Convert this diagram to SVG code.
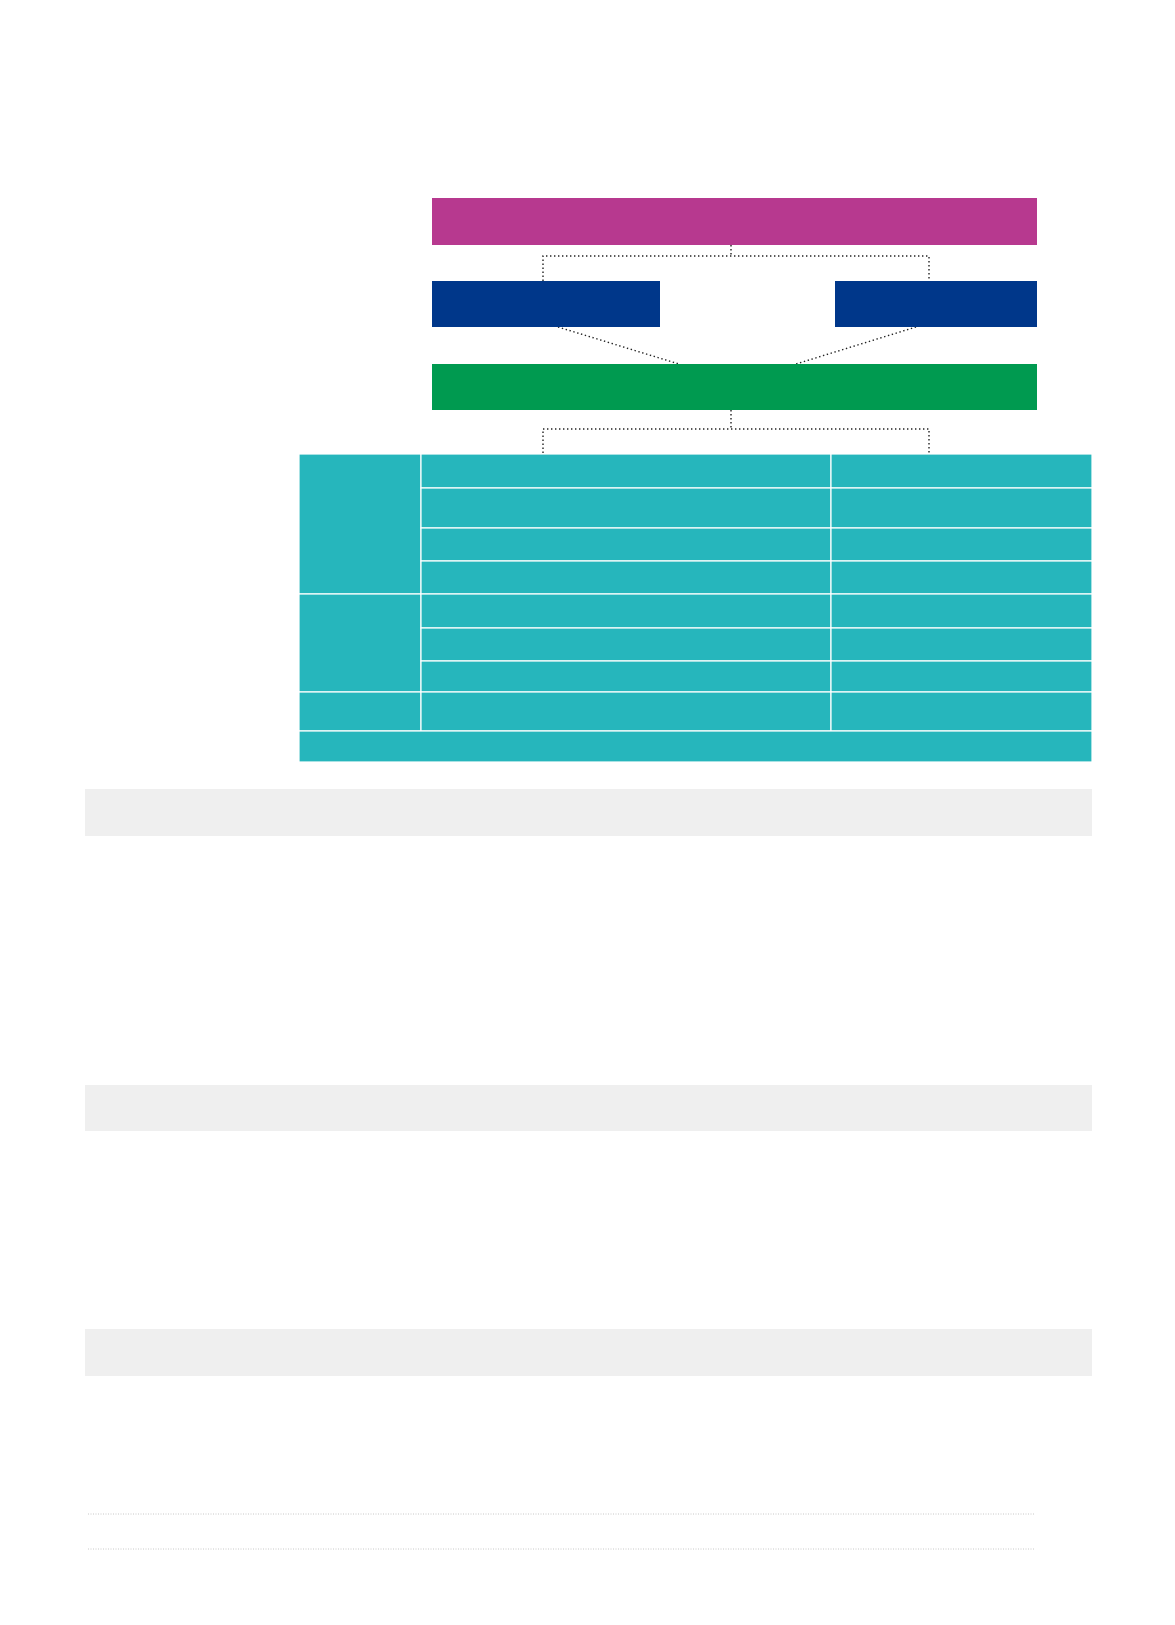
<svg xmlns="http://www.w3.org/2000/svg" width="1175" height="1625" viewBox="0 0 1175 1625">
<style>
.mag{fill:#B7398F}
.blue{fill:#00378A}
.green{fill:#009A50}
.teal{fill:#26B6BC;stroke:#FFFFFF;stroke-width:1.2}
.gray{fill:#EFEFEF}
.conn{fill:none;stroke:#222;stroke-width:1.4;stroke-dasharray:1.4 2.6}
.rule{fill:none;stroke:#C8C8C8;stroke-width:1;stroke-dasharray:1 1.5}
</style>
<rect width="1175" height="1625" fill="#FFFFFF"/>
<g id="connectors">
<path class="conn" d="M731,245 V256 M543,281 V256 H929 V281"/>
<path class="conn" d="M558,327 L679,364 M916,327 L796,364"/>
<path class="conn" d="M731,410 V429 M543,453 V429 H929 V453"/>
</g>
<g id="node-top"><rect class="mag" x="432" y="198" width="605" height="47"/></g>
<g id="node-left"><rect class="blue" x="432" y="281" width="228" height="46"/></g>
<g id="node-right"><rect class="blue" x="835" y="281" width="202" height="46"/></g>
<g id="node-middle"><rect class="green" x="432" y="364" width="605" height="46"/></g>
<g id="table">
<rect class="teal" x="299" y="454" width="122" height="140"/>
<rect class="teal" x="299" y="594" width="122" height="98"/>
<rect class="teal" x="299" y="692" width="122" height="39"/>
<rect class="teal" x="421" y="454" width="410" height="34"/>
<rect class="teal" x="831" y="454" width="261" height="34"/>
<rect class="teal" x="421" y="488" width="410" height="40"/>
<rect class="teal" x="831" y="488" width="261" height="40"/>
<rect class="teal" x="421" y="528" width="410" height="33"/>
<rect class="teal" x="831" y="528" width="261" height="33"/>
<rect class="teal" x="421" y="561" width="410" height="33"/>
<rect class="teal" x="831" y="561" width="261" height="33"/>
<rect class="teal" x="421" y="594" width="410" height="34"/>
<rect class="teal" x="831" y="594" width="261" height="34"/>
<rect class="teal" x="421" y="628" width="410" height="33"/>
<rect class="teal" x="831" y="628" width="261" height="33"/>
<rect class="teal" x="421" y="661" width="410" height="31"/>
<rect class="teal" x="831" y="661" width="261" height="31"/>
<rect class="teal" x="421" y="692" width="410" height="39"/>
<rect class="teal" x="831" y="692" width="261" height="39"/>
<rect class="teal" x="299" y="731" width="793" height="31"/>
</g>
<g id="band-1"><rect class="gray" x="85" y="789" width="1007" height="47"/></g>
<g id="band-2"><rect class="gray" x="85" y="1085" width="1007" height="46"/></g>
<g id="band-3"><rect class="gray" x="85" y="1329" width="1007" height="47"/></g>
<g id="rules">
<line class="rule" x1="88" y1="1514" x2="1035" y2="1514"/>
<line class="rule" x1="88" y1="1549" x2="1035" y2="1549"/>
</g>
</svg>
